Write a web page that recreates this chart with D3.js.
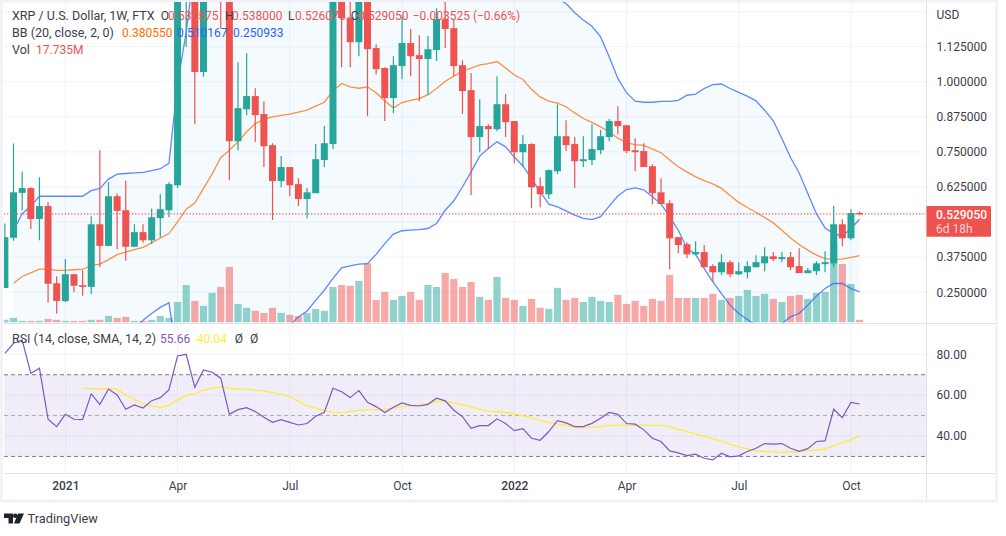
<!DOCTYPE html>
<html>
<head>
<meta charset="utf-8">
<script src="https://cdn.jsdelivr.net/npm/d3@7"></script>
<style>
  html, body { margin: 0; padding: 0; background: #fff; }
  svg { display: block; }
  text { font-family: Roboto, sans-serif; font-size: 12px; fill: #3a3e4a; }
</style>
</head>
<body>
<svg id="chart" width="1006" height="536"></svg>
<script>
// Weekly candles, Mon 16 Nov 2020 to Mon 10 Oct 2022
var weeks = d3.utcMonday.range( new Date( Date.UTC( 2020, 10, 16 ) ), new Date( Date.UTC( 2022, 9, 17 ) ) );

var opens = [
    .265,.444,.604,.621,.511,.557,.282,.218,.314,.275,
    .269,.492,.415,.592,.542,.412,.464,.435,.514,.542,
    .631,1.38,1.46,1.035,1.40,1.58,1.45,.788,.902,.949,
    .885,.774,.646,.696,.635,.582,.603,.721,.778,1.33,
    1.229,1.141,1.38,1.120,1.049,.942,1.056,1.138,1.095,1.081,
    1.113,1.223,1.191,1.059,.970,.803,.842,.831,.920,.860,
    .749,.778,.628,.599,.681,.806,.778,.717,.721,.756,
    .803,.860,.845,.756,.753,.699,.606,.567,.446,.421,
    .385,.393,.343,.321,.357,.314,.321,.339,.353,.378,
    .368,.375,.343,.318,.325,.350,.353,.492,.442,.532575
];
var highs = [
    .495,.780,.680,.624,.660,.571,.307,.368,.314,.328,
    .521,.756,.642,.602,.648,.492,.492,.548,.599,.642,
    1.50,1.92,1.60,1.50,1.72,1.75,1.50,1.070,1.102,.977,
    .931,.781,.735,.696,.656,.621,.778,.842,1.38,1.36,
    1.30,1.41,1.40,1.134,1.052,1.091,1.238,1.188,1.166,1.163,
    1.262,1.287,1.223,1.077,1.031,.938,.849,1.020,.956,.860,
    .810,.781,.660,.688,.920,.863,.803,.806,.849,.828,
    .867,.913,.845,.799,.781,.706,.656,.578,.446,.428,
    .432,.418,.350,.385,.364,.357,.360,.382,.410,.393,
    .393,.393,.407,.336,.360,.396,.557,.510,.546,.538
];
var lows = [
    .265,.433,.542,.475,.435,.212,.173,.215,.250,.237,
    .243,.340,.415,.403,.362,.412,.426,.422,.446,.517,
    .621,1.125,.849,1.018,1.33,1.190,.649,.756,.881,.785,
    .696,.507,.624,.592,.557,.514,.603,.696,.760,1.052,
    1.052,1.091,.877,1.027,.860,.888,1.009,1.020,.931,.952,
    1.074,1.120,1.020,.885,.596,.749,.760,.824,.803,.710,
    .696,.549,.553,.582,.671,.753,.621,.696,.703,.742,
    .788,.813,.746,.681,.696,.564,.564,.332,.389,.371,
    .382,.339,.286,.311,.303,.311,.300,.339,.325,.360,
    .357,.328,.318,.318,.311,.321,.339,.414,.435,.526075
];
var closes = [
    .446,.606,.621,.511,.557,.280,.219,.314,.273,.269,
    .492,.415,.592,.540,.412,.464,.435,.517,.546,.635,
    1.40,1.46,1.035,1.40,1.50,1.45,.788,.906,.949,.881,
    .770,.646,.696,.631,.582,.606,.724,.781,1.33,1.227,
    1.141,1.38,1.116,1.045,.942,1.059,1.138,1.091,1.081,1.116,
    1.223,1.188,1.056,.967,.803,.842,.831,.920,.856,.749,
    .778,.624,.599,.685,.806,.774,.717,.724,.760,.806,
    .860,.842,.753,.749,.696,.603,.564,.442,.418,.385,
    .393,.339,.321,.357,.314,.325,.343,.357,.378,.368,
    .375,.339,.318,.328,.353,.357,.492,.442,.532,.52905
];
var volumes = [
    18,31,11,11,11,24,18,11,11,11,
    18,18,44,31,38,11,11,18,44,31,
    137,250,144,111,197,237,370,124,98,78,
    64,98,64,51,42,64,91,78,237,250,
    244,277,395,151,204,151,177,204,151,250,
    237,330,290,237,270,171,151,304,164,151,
    111,157,98,91,231,151,164,137,171,144,
    137,184,124,144,111,157,144,317,164,164,
    164,164,191,151,164,177,217,177,191,157,
    137,177,184,157,197,204,530,390,257,17.735
];

// Bollinger bands start on the second week
var bbBasis = [
    null,.282,.306,.319,.332,.332,.328,.328,.330,.331,
    .346,.350,.366,.384,.393,.402,.410,.426,.443,.459,
    .501,.546,.568,.620,.671,.730,.756,.786,.822,.851,
    .866,.875,.880,.885,.892,.899,.913,.927,.968,.994,
    .982,.977,.982,.961,.931,.907,.926,.934,.940,.954,
    .976,1.002,1.020,1.038,1.049,1.060,1.065,1.072,1.049,1.024,
    1.008,.973,.946,.931,.924,.911,.889,.869,.855,.839,
    .822,.799,.782,.776,.773,.760,.747,.721,.697,.679,
    .661,.648,.636,.620,.595,.570,.552,.535,.516,.497,
    .471,.443,.420,.400,.382,.370,.366,.368,.374,.38055
];
var bbUpper = [
    null,.471,.530,.557,.592,.592,.592,.592,.592,.592,
    .612,.620,.653,.671,.673,.675,.677,.683,.690,.709,
    .994,1.177,1.42,1.62,1.83,2.02,2.07,2.09,2.10,2.11,
    1.95,1.85,1.72,1.638,1.622,1.615,1.605,1.597,1.637,1.651,
    1.62,1.604,1.612,1.537,1.439,1.357,1.383,1.397,1.407,1.431,
    1.457,1.462,1.464,1.451,1.419,1.385,1.368,1.358,1.33,1.316,
    1.316,1.31,1.305,1.30,1.295,1.279,1.246,1.220,1.198,1.160,
    1.089,1.012,.961,.931,.927,.927,.930,.930,.934,.952,
    .956,.976,.990,.992,.976,.962,.949,.932,.899,.861,
    .798,.730,.675,.602,.530,.479,.459,.450,.477,.510167
];
var bbLower = [
    null,.093,.082,.081,.072,.072,.064,.064,.068,.070,
    .080,.080,.079,.097,.113,.120,.150,.174,.196,.212,
    .008,-.085,-.284,-.38,-.488,-.56,-.558,-.518,-.456,-.408,
    -.218,-.10,.04,.132,.162,.183,.221,.257,.299,.337,
    .344,.350,.352,.385,.423,.457,.469,.471,.473,.477,
    .495,.542,.576,.625,.679,.735,.762,.786,.768,.732,
    .700,.655,.608,.564,.554,.540,.525,.513,.509,.519,
    .557,.593,.616,.622,.615,.590,.564,.519,.471,.406,
    .385,.334,.287,.245,.204,.174,.153,.132,.103,.103,
    .138,.162,.174,.204,.236,.263,.281,.281,.263,.250933
];

var rsi = [
    80.5,85.4,87.0,70.7,73.2,48.2,44.6,50.6,48.2,48.0,
    60.6,55.5,63.0,60.1,53.1,55.2,53.7,57.3,58.8,62.6,
    79.2,80.0,63.8,72.3,71.2,68.3,50.6,52.9,53.9,52.0,
    49.2,46.7,48.0,46.7,45.4,46.1,49.7,51.6,63.4,61.7,
    58.8,62.2,56.5,54.4,51.5,54.1,56.2,55.0,54.7,55.5,
    58.5,57.2,52.6,49.5,43.8,45.1,45.1,48.4,46.1,42.6,
    43.6,38.9,37.9,42.2,47.5,46.4,44.6,44.6,46.2,48.7,
    51.5,50.6,46.1,45.8,43.0,38.9,37.3,32.7,31.7,30.4,
    31.1,29.1,28.3,31.6,29.8,30.3,32.4,34.0,36.3,36.0,
    36.3,34.0,32.5,33.8,37.3,37.6,53.1,49.0,56.4,55.66
];
// RSI average starts at week 10
var rsiSma = [
    null,null,null,null,null,null,null,null,null,63.4,
    63.2,63.0,63.2,62.9,60.1,58.0,55.9,54.7,53.9,55.0,
    57.7,59.8,60.8,62.4,63.4,64.0,63.4,62.9,62.9,62.5,
    62.1,61.2,60.4,59.4,57.0,54.7,53.6,52.3,51.6,51.3,
    52.0,52.6,52.8,52.8,52.9,53.7,54.4,54.9,55.2,55.9,
    56.8,57.2,56.2,55.2,54.2,53.1,52.1,52.0,51.5,50.8,
    50.0,48.7,47.7,46.7,45.9,45.1,44.4,44.0,44.3,44.6,
    45.1,45.3,45.3,45.3,45.3,45.3,45.3,44.6,43.3,42.2,
    41.0,39.9,38.7,37.4,36.0,34.7,33.7,32.7,32.4,32.2,
    32.0,32.2,32.4,32.7,33.2,33.7,35.3,36.6,38.2,40.04
];

// Axis ticks. The 0.5 label sits under the last price box, so only its grid line shows
var priceGrid = [ 1.25, 1.125, 1, .875, .75, .625, .5, .375, .25 ];
var priceLabels = [ 1.125, 1, .875, .75, .625, .375, .25 ];
var rsiTicks = [ 80, 60, 40 ];
var rsiBands = [ 70, 50, 30 ];
var timeTicks = [
    new Date( Date.UTC( 2021, 0, 4 ) ), new Date( Date.UTC( 2021, 3, 5 ) ),
    new Date( Date.UTC( 2021, 6, 5 ) ), new Date( Date.UTC( 2021, 9, 4 ) ),
    new Date( Date.UTC( 2022, 0, 3 ) ), new Date( Date.UTC( 2022, 3, 4 ) ),
    new Date( Date.UTC( 2022, 6, 4 ) ), new Date( Date.UTC( 2022, 9, 3 ) )
];
var timeLabels = [ '2021', 'Apr', 'Jul', 'Oct', '2022', 'Apr', 'Jul', 'Oct' ];

// Colors
var UP = '#26a69a', DOWN = '#ef5350', BLUE = '#2962ff', ORANGE = '#ff6d00';
var GRID = '#f0f3fa', FRAME = '#e0e3eb', PURPLE = '#7e57c2', YELLOW = '#ffeb3b', TEXT = '#3a3e4a';

// Layout
var left = 4, top_ = 2, right = 926.5, priceBottom = 322.5, rsiTop = 324.5, rsiBottom = 473.5, outerRight = 995, outerBottom = 500;

var x = d3.scaleUtc().domain( [ weeks[0], weeks[ weeks.length - 1 ] ] ).range( [ 4.9, 859.6 ] );
var y = d3.scaleLinear().domain( [ 1.125, .25 ] ).range( [ 46.7, 292.2 ] );
var yVol = d3.scaleLinear().domain( [ 0, 530 ] ).range( [ priceBottom, 243 ] );
var yRsi = d3.scaleLinear().domain( [ 80, 40 ] ).range( [ 354.3, 436 ] );

var svg = d3.select( '#chart' );
var defs = svg.append( 'defs' );

defs.append( 'clipPath' ).attr( 'id', 'clip-price' ).append( 'rect' )
    .attr( 'x', left ).attr( 'y', top_ ).attr( 'width', right - left ).attr( 'height', priceBottom - top_ );
defs.append( 'clipPath' ).attr( 'id', 'clip-rsi' ).append( 'rect' )
    .attr( 'x', left ).attr( 'y', rsiTop ).attr( 'width', right - left ).attr( 'height', rsiBottom - rsiTop );

var dots = defs.append( 'pattern' ).attr( 'id', 'dots' )
    .attr( 'width', 3 ).attr( 'height', 3 ).attr( 'patternUnits', 'userSpaceOnUse' );
dots.append( 'rect' ).attr( 'width', 1 ).attr( 'height', 1 ).attr( 'fill', PURPLE ).attr( 'opacity', .06 );

// Outer frame
svg.append( 'rect' ).attr( 'x', 1.5 ).attr( 'y', 1 ).attr( 'width', outerRight ).attr( 'height', outerBottom )
    .attr( 'fill', 'none' ).attr( 'stroke', '#f0f0f6' ).attr( 'stroke-width', 2.5 );

// Grid
var grid = svg.append( 'g' );
grid.selectAll( '.hp' ).data( priceGrid ).enter().append( 'line' )
    .attr( 'x1', left ).attr( 'x2', right ).attr( 'y1', y ).attr( 'y2', y )
    .attr( 'stroke', GRID );
grid.selectAll( '.hr' ).data( rsiTicks ).enter().append( 'line' )
    .attr( 'x1', left ).attr( 'x2', right ).attr( 'y1', yRsi ).attr( 'y2', yRsi )
    .attr( 'stroke', GRID );
grid.selectAll( '.v' ).data( timeTicks ).enter().append( 'line' )
    .attr( 'x1', x ).attr( 'x2', x ).attr( 'y1', top_ ).attr( 'y2', rsiBottom )
    .attr( 'stroke', GRID );

// Price pane
var price = svg.append( 'g' ).attr( 'clip-path', 'url(#clip-price)' );

var isUp = function ( i ) { return closes[i] >= opens[i]; };

// Band fill
var band = d3.area()
    .defined( function ( d, i ) { return bbUpper[i] !== null; } )
    .x( function ( d ) { return x( d ); } )
    .y0( function ( d, i ) { return y( bbLower[i] ); } )
    .y1( function ( d, i ) { return y( bbUpper[i] ); } );
price.append( 'path' ).datum( weeks ).attr( 'd', band )
    .attr( 'fill', '#2196f3' ).attr( 'fill-opacity', .05 );

// Volume
price.selectAll( '.vol' ).data( weeks ).enter().append( 'rect' )
    .attr( 'x', function ( d ) { return x( d ) - 3.6; } )
    .attr( 'width', 7.2 )
    .attr( 'y', function ( d, i ) { return yVol( volumes[i] ); } )
    .attr( 'height', function ( d, i ) { return yVol( 0 ) - yVol( volumes[i] ); } )
    .attr( 'fill', function ( d, i ) { return isUp( i ) ? UP : DOWN; } )
    .attr( 'fill-opacity', .5 );

// Band lines
function series_line ( values, scale ) {
    return d3.line()
        .defined( function ( d, i ) { return values[i] !== null; } )
        .x( function ( d ) { return x( d ); } )
        .y( function ( d, i ) { return scale( values[i] ); } );
}
[ [ bbUpper, BLUE ], [ bbLower, BLUE ], [ bbBasis, ORANGE ] ].forEach( function ( s ) {
    price.append( 'path' ).datum( weeks ).attr( 'd', series_line( s[0], y ) )
        .attr( 'fill', 'none' ).attr( 'stroke', s[1] ).attr( 'stroke-width', 1.3 ).attr( 'stroke-opacity', .75 );
});

// Candles
var candles = price.selectAll( '.candle' ).data( weeks ).enter().append( 'g' );
candles.append( 'line' )
    .attr( 'x1', x ).attr( 'x2', x )
    .attr( 'y1', function ( d, i ) { return y( highs[i] ); } )
    .attr( 'y2', function ( d, i ) { return y( lows[i] ); } )
    .attr( 'stroke', function ( d, i ) { return isUp( i ) ? UP : DOWN; } )
    .attr( 'stroke-width', 1.2 );
candles.append( 'rect' )
    .attr( 'x', function ( d ) { return x( d ) - 3.5; } )
    .attr( 'width', 7 )
    .attr( 'y', function ( d, i ) { return y( Math.max( opens[i], closes[i] ) ); } )
    .attr( 'height', function ( d, i ) { return Math.max( 1.5, Math.abs( y( opens[i] ) - y( closes[i] ) ) ); } )
    .attr( 'fill', function ( d, i ) { return isUp( i ) ? UP : DOWN; } );

// Last price line
var lastPrice = closes[ closes.length - 1 ];
svg.append( 'line' )
    .attr( 'x1', left ).attr( 'x2', right ).attr( 'y1', y( lastPrice ) ).attr( 'y2', y( lastPrice ) )
    .attr( 'stroke', DOWN ).attr( 'stroke-dasharray', '1.2 2' ).attr( 'stroke-width', 1.2 );

// RSI pane
var pane = svg.append( 'g' ).attr( 'clip-path', 'url(#clip-rsi)' );
pane.append( 'rect' )
    .attr( 'x', left ).attr( 'width', right - left )
    .attr( 'y', yRsi( 70 ) ).attr( 'height', yRsi( 30 ) - yRsi( 70 ) )
    .attr( 'fill', PURPLE ).attr( 'fill-opacity', .1 );
pane.append( 'rect' )
    .attr( 'x', left ).attr( 'width', right - left )
    .attr( 'y', yRsi( 70 ) ).attr( 'height', yRsi( 30 ) - yRsi( 70 ) )
    .attr( 'fill', 'url(#dots)' );
pane.selectAll( '.band' ).data( rsiBands ).enter().append( 'line' )
    .attr( 'x1', left ).attr( 'x2', right ).attr( 'y1', yRsi ).attr( 'y2', yRsi )
    .attr( 'stroke', function ( d ) { return d === 50 ? '#a9abb3' : '#787b86'; } )
    .attr( 'stroke-dasharray', '4 3' );
pane.append( 'path' ).datum( weeks ).attr( 'd', series_line( rsiSma, yRsi ) )
    .attr( 'fill', 'none' ).attr( 'stroke', YELLOW ).attr( 'stroke-width', 1.3 );
pane.append( 'path' ).datum( weeks ).attr( 'd', series_line( rsi, yRsi ) )
    .attr( 'fill', 'none' ).attr( 'stroke', PURPLE ).attr( 'stroke-width', 1.2 );

// Axis separators
var seps = [ [ left, priceBottom + 1, outerRight, priceBottom + 1 ], [ left, rsiBottom, outerRight, rsiBottom ], [ right, top_, right, outerBottom ] ];
svg.selectAll( '.sep' ).data( seps ).enter().append( 'line' )
    .attr( 'x1', function ( d ) { return d[0]; } ).attr( 'y1', function ( d ) { return d[1]; } )
    .attr( 'x2', function ( d ) { return d[2]; } ).attr( 'y2', function ( d ) { return d[3]; } )
    .attr( 'stroke', FRAME );

// Axes
var priceAxis = svg.append( 'g' ).attr( 'transform', 'translate(' + right + ',0)' )
    .call( d3.axisRight( y ).tickValues( priceLabels ).tickSize( 0 ).tickPadding( 10 )
        .tickFormat( function ( d ) { return d.toFixed( 6 ); } ) );
var rsiAxis = svg.append( 'g' ).attr( 'transform', 'translate(' + right + ',0)' )
    .call( d3.axisRight( yRsi ).tickValues( rsiTicks ).tickSize( 0 ).tickPadding( 10 )
        .tickFormat( function ( d ) { return d.toFixed( 2 ); } ) );
var timeAxis = svg.append( 'g' ).attr( 'transform', 'translate(0,' + rsiBottom + ')' )
    .call( d3.axisBottom( x ).tickValues( timeTicks ).tickSize( 0 ).tickPadding( 8 )
        .tickFormat( function ( d, i ) { return timeLabels[i]; } ) );
[ priceAxis, rsiAxis, timeAxis ].forEach( function ( a ) {
    a.select( '.domain' ).remove();
    a.selectAll( 'text' ).style( 'font-family', 'Roboto, sans-serif' ).style( 'font-size', '12px' ).style( 'fill', TEXT );
});
timeAxis.selectAll( 'text' ).style( 'font-weight', function ( d, i ) { return i % 4 === 0 ? 500 : 400; } );

svg.append( 'text' ).attr( 'x', 936.5 ).attr( 'y', 19 ).text( 'USD' );

// Last price label
svg.append( 'rect' ).attr( 'x', right ).attr( 'y', 206 ).attr( 'width', 64.5 ).attr( 'height', 30.7 ).attr( 'rx', 1 ).attr( 'fill', DOWN );
svg.append( 'text' ).attr( 'x', 936 ).attr( 'y', 219 ).style( 'fill', '#fff' ).style( 'font-weight', 500 ).text( lastPrice.toFixed( 6 ) );
svg.append( 'text' ).attr( 'x', 936 ).attr( 'y', 232.5 ).style( 'fill', '#fbd5d4' ).text( '6d 18h' );

// Legend: text labels run a little wider than the numbers
var legendRows = [
    [ 12, 20, 'XRP / U.S. Dollar, 1W, FTX', TEXT, 12.5 ],
    [ 160.7, 20, 'O', TEXT, 12 ], [ 168, 20, '0.532575', DOWN, 12 ],
    [ 225, 20, 'H', TEXT, 12 ], [ 232, 20, '0.538000', DOWN, 12 ],
    [ 288, 20, 'L', TEXT, 12 ], [ 295, 20, '0.526075', DOWN, 12 ],
    [ 350.7, 20, 'C', TEXT, 12 ], [ 358, 20, '0.529050', DOWN, 12 ],
    [ 412.7, 20, '\u22120.003525 (\u22120.66%)', DOWN, 12 ],
    [ 12, 37, 'BB (20, close, 2, 0)', TEXT, 12.5 ],
    [ 122, 37, '0.380550', ORANGE, 12 ], [ 177, 37, '0.510167', BLUE, 12 ], [ 233, 37, '0.250933', BLUE, 12 ],
    [ 12, 54, 'Vol', TEXT, 12.5 ], [ 36, 54, '17.735M', DOWN, 12 ],
    [ 12, 343, 'RSI (14, close, SMA, 14, 2)', TEXT, 12.5 ],
    [ 160, 343, '55.66', PURPLE, 12 ], [ 196.7, 343, '40.04', YELLOW, 12 ],
    [ 234.7, 343, '\u00d8', TEXT, 12 ], [ 250, 343, '\u00d8', TEXT, 12 ]
];
svg.selectAll( '.legend' ).data( legendRows ).enter().append( 'text' )
    .attr( 'x', function ( d ) { return d[0]; } ).attr( 'y', function ( d ) { return d[1]; } )
    .style( 'fill', function ( d ) { return d[3]; } )
    .style( 'font-size', function ( d ) { return d[4] + 'px'; } )
    .text( function ( d ) { return d[2]; } );

// TradingView mark
var logo = svg.append( 'g' ).attr( 'transform', 'translate(4,513.5)' ).attr( 'fill', '#1e222d' );
logo.append( 'path' ).attr( 'd', 'M0 0H9V10H4.5V4.5H0Z' );
logo.append( 'circle' ).attr( 'cx', 11.2 ).attr( 'cy', 2.2 ).attr( 'r', 2.2 );
logo.append( 'path' ).attr( 'd', 'M14 0H20L15.5 10H10Z' );
svg.append( 'text' ).attr( 'x', 27.5 ).attr( 'y', 523 ).style( 'font-size', '12.8px' ).style( 'fill', TEXT ).text( 'TradingView' );
</script>
</body>
</html>
